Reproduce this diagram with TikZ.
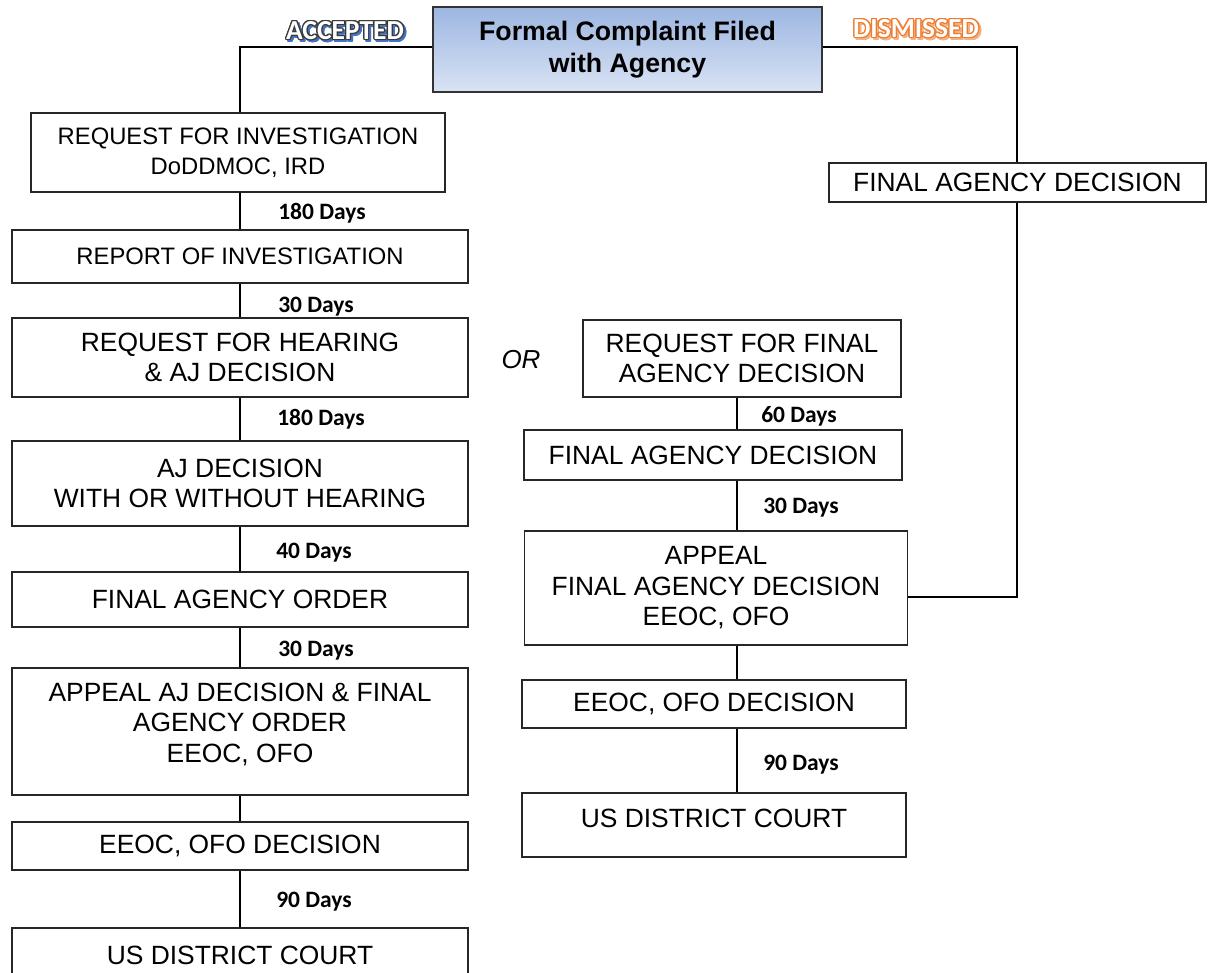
\documentclass[tikz,border=0pt]{standalone}
\usepackage{fontspec}
\usepackage{contour}
\newfontfamily\arialf{Liberation Sans}
\newfontfamily\calf{Carlito}
\newcommand\smallbox{\arialf\fontsize{23.8}{30.5}\selectfont}
\newcommand\bigbox{\arialf\fontsize{26.4}{30.5}\selectfont}
\newcommand\topf{\arialf\bfseries\fontsize{26.7}{32}\selectfont}
\newcommand\daysf{\calf\bfseries\fontsize{23.5}{26}\selectfont}
\newcommand\wordart{\calf\bfseries\fontsize{27.5}{30}\selectfont}
\definecolor{topblue}{HTML}{9CB6E1}
\definecolor{botblue}{HTML}{D9E3F4}
\definecolor{accline}{HTML}{3A3A3A}
\definecolor{accshadow}{HTML}{4472C4}
\definecolor{disline}{HTML}{ED7D31}
\definecolor{disshadow}{HTML}{F4B183}
\contourlength{1.2pt}
\contournumber{16}
\begin{document}
\begin{tikzpicture}[x=1pt,y=-1pt,
  box/.style={draw=black!85, line width=1.1pt, fill=white, inner sep=0pt, align=center, font=\bigbox},
  sbox/.style={box, font=\smallbox},
  conn/.style={line width=2.8pt},
  days/.style={font=\daysf, anchor=base, inner sep=0pt}]
\useasboundingbox (0,0) rectangle (1209,972);

% top box
\node[draw=black!80, line width=1.2pt, top color=topblue, bottom color=botblue,
      minimum width=389pt, minimum height=85pt, inner sep=0pt, align=center, font=\topf]
      (top) at (627.5,49.5) {Formal Complaint Filed\\with Agency};

% word-art labels
\node[inner sep=0pt, font=\wordart, text=accshadow] (accs) at (347,33) {\contour{accshadow}{ACCEPTED}};
\node[inner sep=0pt, font=\wordart, text=white] (acc) at (345,31) {\contour{accline}{ACCEPTED}};
\node[inner sep=0pt, font=\wordart, text=disshadow] (diss) at (918,31) {\contour{disshadow}{DISMISSED}};
\node[inner sep=0pt, font=\wordart, text=white] (dis) at (916,29) {\contour{disline}{DISMISSED}};

% left column
\node[sbox, minimum width=414pt, minimum height=79pt] (b1) at (238,152.5) {REQUEST FOR INVESTIGATION\\DoDDMOC, IRD};
\node[sbox, minimum width=456pt, minimum height=53pt] (b2) at (240,256.5) {REPORT OF INVESTIGATION};
\node[box, minimum width=456pt, minimum height=79pt] (b3) at (240,357.5) {REQUEST FOR HEARING\\\& AJ DECISION};
\node[box, minimum width=456pt, minimum height=85pt] (b4) at (240,483.5) {AJ DECISION\\WITH OR WITHOUT HEARING};
\node[box, minimum width=456pt, minimum height=55pt] (b5) at (240,599.5) {FINAL AGENCY ORDER};
\node[box, minimum width=456pt, minimum height=127pt, text depth=18pt] (b6) at (240,731.5) {APPEAL AJ DECISION \& FINAL\\AGENCY ORDER\\EEOC, OFO};
\node[box, minimum width=456pt, minimum height=48pt] (b7) at (240,846) {EEOC, OFO DECISION};
\node[box, minimum width=456pt, minimum height=54pt] (b8) at (240,955) {US DISTRICT COURT};

% right column
\node[box, minimum width=377pt, minimum height=39pt] (fadR) at (1017.5,182.5) {FINAL AGENCY DECISION};

% middle column
\node[font=\arialf\itshape\fontsize{26}{30}\selectfont, inner sep=0pt] (or) at (521,360) {OR};
\node[box, minimum width=318pt, minimum height=77pt] (b9) at (742,358.5) {REQUEST FOR FINAL\\AGENCY DECISION};
\node[box, minimum width=378pt, minimum height=50pt] (b10) at (713,455) {FINAL AGENCY DECISION};
\node[box, minimum width=383pt, minimum height=114pt] (b11) at (716,588) {APPEAL\\FINAL AGENCY DECISION\\EEOC, OFO};
\node[box, minimum width=384pt, minimum height=48pt] (b12) at (714,704) {EEOC, OFO DECISION};
\node[box, minimum width=384pt, minimum height=64pt, text depth=14pt] (b13) at (714,825) {US DISTRICT COURT};

% connectors
\coordinate (lx) at (240,47);
\coordinate (mx) at (737,0);
\coordinate (rx) at (1017,47);
\coordinate (ry) at (0,597);
\draw[conn] (top.west |- lx) -- (lx) -- (lx |- b1.north);
\draw[conn] (top.east |- rx) -- (rx) -- (rx |- fadR.north);
\draw[conn] (rx |- fadR.south) -- (rx |- ry) -- (b11.east |- ry);
\foreach \u/\v in {b1/b2,b2/b3,b3/b4,b4/b5,b5/b6,b6/b7,b7/b8}
  \draw[conn] (lx |- \u.south) -- (lx |- \v.north);
\foreach \u/\v in {b9/b10,b10/b11,b11/b12,b12/b13}
  \draw[conn] (mx |- \u.south) -- (mx |- \v.north);

% day labels
\node[days] (d1) at (322,219) {180 Days};
\node[days] (d2) at (316,312) {30 Days};
\node[days] (d3) at (321,425) {180 Days};
\node[days] (d4) at (314,558) {40 Days};
\node[days] (d5) at (316,656) {30 Days};
\node[days] (d6) at (314,907) {90 Days};
\node[days] (d7) at (799,422) {60 Days};
\node[days] (d8) at (801,513) {30 Days};
\node[days] (d9) at (801,770) {90 Days};
\end{tikzpicture}
\end{document}
